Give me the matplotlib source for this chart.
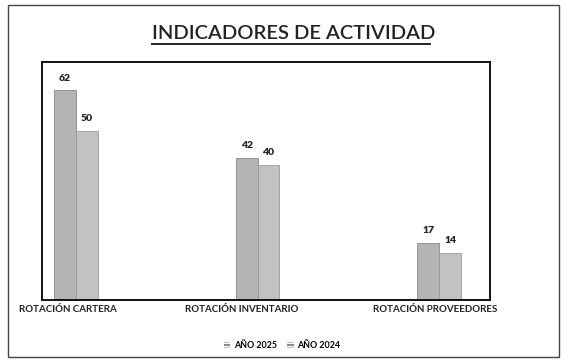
import numpy as np
import matplotlib.pyplot as plt
from matplotlib.patches import Rectangle, Patch

categorias = ['ROTACIÓN CARTERA', 'ROTACIÓN INVENTARIO', 'ROTACIÓN PROVEEDORES']
anio_2025 = [62, 42, 17]
anio_2024 = [50, 40, 14]
series = ['AÑO 2025', 'AÑO 2024']

plt.rcParams['font.family'] = ['Lato', 'DejaVu Sans']

fig = plt.figure(figsize=(5.64, 3.62), dpi=100)
fig.patch.set_facecolor('white')

# marco exterior
fig.patches.append(Rectangle((0.014, 0.014), 0.978, 0.972, transform=fig.transFigure,
                             fill=False, edgecolor='#444444', linewidth=1.0))

ax = fig.add_axes([42 / 564, 1 - 300 / 362, 448 / 564, 238 / 362])

x = np.arange(len(categorias))
w = 0.12
b1 = ax.bar(x - w / 2, anio_2025, w, color='#b4b4b4', edgecolor='#8a8a8a', linewidth=0.6,
            label=series[0])
b2 = ax.bar(x + w / 2, anio_2024, w, color='#c2c2c2', edgecolor='#9a9a9a', linewidth=0.6,
            label=series[1])

for bars in (b1, b2):
    for r in bars:
        ax.text(r.get_x() + r.get_width() / 2, r.get_height() + 2.3, f'{r.get_height():.0f}',
                ha='center', va='bottom', fontsize=7.5, fontweight='heavy', color='#222222')

ax.set_xlim(-0.187, 2.28)
ax.set_ylim(0, 70.4)
ax.set_xticks([])
ax.set_yticks([])
for s in ax.spines.values():
    s.set_linewidth(1.4)
    s.set_color('#111111')

# etiquetas de categorias bajo el marco
label_x = [x[0] - 0.045, x[1] - 0.09, x[2] - 0.02]
for lx, cat in zip(label_x, categorias):
    ax.text(lx, -1.6, cat, ha='center', va='top', fontsize=7.0, fontweight='bold',
            color='#222222')

fig.text(0.52, 0.908, 'INDICADORES DE ACTIVIDAD', ha='center', va='center',
         fontsize=14.5, fontweight='semibold', color='#222222')
fig.add_artist(plt.Line2D([0.27, 0.763], [0.878, 0.878], color='#222222', linewidth=1.4))

handles = [Patch(facecolor='white', edgecolor='#555555', hatch='-----', linewidth=0, label=series[0]),
           Patch(facecolor='white', edgecolor='#555555', hatch='-----', linewidth=0, label=series[1])]
fig.legend(handles=handles, loc='center', bbox_to_anchor=(0.5, 0.045), ncol=2, frameon=False,
           prop={'weight': 'bold', 'size': 6.4}, handlelength=0.7, handleheight=0.7,
           handletextpad=0.4, columnspacing=1.2)

fig.savefig('out.png', dpi=100)
